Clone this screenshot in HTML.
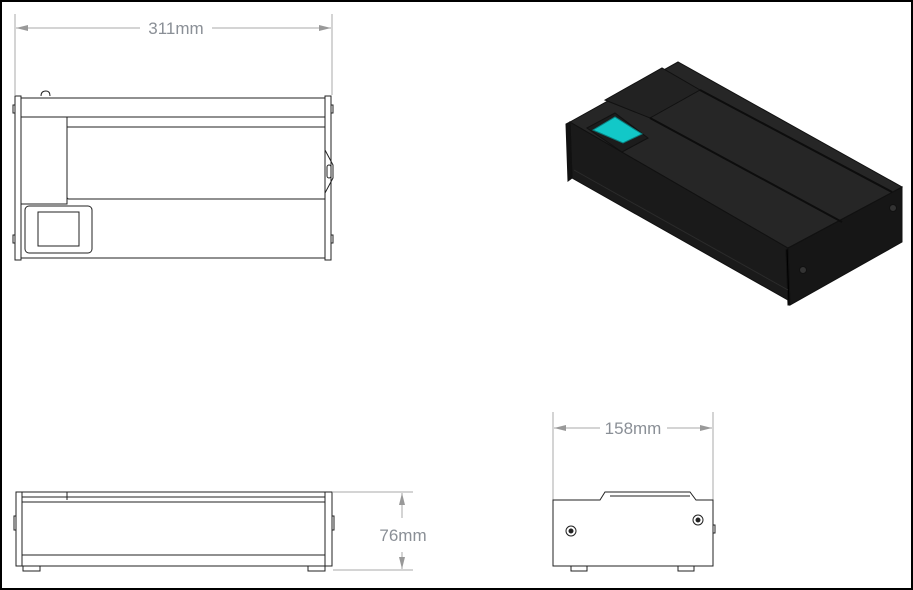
<!DOCTYPE html>
<html><head><meta charset="utf-8"><style>
html,body{margin:0;padding:0;background:#fff}
svg{display:block}
text{font-family:"Liberation Sans",sans-serif;fill:#8a8f96}
</style></head><body>
<svg width="913" height="590" viewBox="0 0 913 590" xmlns="http://www.w3.org/2000/svg">
<rect x="1" y="1" width="911" height="588" fill="#fff" stroke="#000" stroke-width="2"/>
<defs>
<marker id="a" markerWidth="12" markerHeight="6" refX="12" refY="3" orient="auto"><path d="M0,0 L12,3 L0,6 z" fill="#999"/></marker>
</defs>
<g stroke="#aaa" stroke-width="1" fill="none">
<!-- 311 dim -->
<line x1="15" y1="14" x2="15" y2="95"/><line x1="332" y1="14" x2="332" y2="95"/>
<line x1="140" y1="28" x2="16" y2="28" marker-end="url(#a)"/>
<line x1="212" y1="28" x2="331" y2="28" marker-end="url(#a)"/>
<!-- 76 dim -->
<line x1="333" y1="492" x2="413" y2="492"/><line x1="333" y1="570" x2="413" y2="570"/>
<line x1="402" y1="518" x2="402" y2="493" marker-end="url(#a)"/>
<line x1="402" y1="552" x2="402" y2="569" marker-end="url(#a)"/>
<!-- 158 dim -->
<line x1="553" y1="412" x2="553" y2="500"/><line x1="713" y1="412" x2="713" y2="500"/>
<line x1="600" y1="428" x2="554" y2="428" marker-end="url(#a)"/>
<line x1="667" y1="428" x2="712" y2="428" marker-end="url(#a)"/>
</g>
<text x="176" y="34" font-size="17" text-anchor="middle">311mm</text>
<text x="403" y="541" font-size="17" text-anchor="middle">76mm</text>
<text x="633" y="434" font-size="17" text-anchor="middle">158mm</text>

<!-- top view -->
<g stroke="#222" stroke-width="1" fill="none">
<rect x="15" y="96" width="6" height="164"/>
<rect x="325" y="96" width="6" height="164"/>
<rect x="21" y="98" width="304" height="160"/>
<line x1="21" y1="117" x2="325" y2="117"/>
<rect x="21" y="117" width="46" height="87"/>
<path d="M67 117 V197 Q67 199 69 199 H325"/>
<line x1="67" y1="127" x2="325" y2="127"/>
<path d="M325 150 L333 165 V178 L325 193"/>
<rect x="327" y="165" width="4" height="13" rx="2"/>
<rect x="25" y="206" width="67" height="47" rx="4"/>
<rect x="38" y="212" width="41" height="34"/>
<path d="M41 96 Q41 91 46 91 Q50 91 50 96"/>
<rect x="13" y="105" width="2" height="8"/><rect x="13" y="235" width="2" height="8"/>
<rect x="331" y="105" width="2" height="8"/><rect x="331" y="235" width="2" height="8"/>
</g>

<!-- front view -->
<g stroke="#222" stroke-width="1" fill="none">
<rect x="16" y="492" width="316" height="74"/>
<line x1="22" y1="492" x2="22" y2="566"/><line x1="325" y1="492" x2="325" y2="566"/>
<line x1="22" y1="497" x2="325" y2="497"/>
<line x1="67" y1="492" x2="67" y2="500"/>
<line x1="22" y1="502" x2="325" y2="502"/>
<line x1="22" y1="555" x2="325" y2="555"/>
<rect x="23" y="566" width="17" height="5"/><rect x="308" y="566" width="17" height="5"/>
<rect x="14" y="516" width="2" height="14"/><rect x="332" y="516" width="2" height="14"/>
</g>

<!-- side view -->
<g stroke="#222" stroke-width="1" fill="none">
<path d="M553 500 H600 L605 492 H690 L696 500 H713 V566 H553 Z"/>
<line x1="610" y1="496" x2="690" y2="496"/>
<circle cx="571" cy="531" r="5"/><circle cx="571" cy="531" r="2" fill="#222"/>
<circle cx="698" cy="520" r="5"/><circle cx="698" cy="520" r="2" fill="#222"/>
<rect x="571" y="566" width="16" height="5"/><rect x="678" y="566" width="16" height="5"/>
<rect x="713" y="525" width="2" height="8"/>
</g>

<!-- iso view -->
<g stroke="#111" stroke-width="1">
<polygon points="570,122 572,178 788,300 788,248" fill="#1a1a1a"/>
<polygon points="788,248 902,187 902,242 790,305" fill="#161616"/>
<polygon points="570,122 678,62 902,187 788,248" fill="#262626"/>
<polygon points="605,100 662,68 700,90 650,118" fill="#222"/>
<line x1="650" y1="118" x2="842" y2="222" stroke="#0d0d0d" stroke-width="2"/>
<line x1="700" y1="90" x2="892" y2="192" stroke="#0d0d0d" stroke-width="2"/>
<polygon points="587,128 615,113 648,138 622,152" fill="#1c1c1c"/>
<polygon points="593,130 615,117 642,134 623,143" fill="#12c8c8" stroke="#0a8080"/>
<polygon points="570,122 566,124 568,181 572,178" fill="#111"/>
<polygon points="788,248 786,250 788,305 790,305" fill="#000"/>
<line x1="574" y1="170" x2="788" y2="290" stroke="#2b2b2b"/>
<circle cx="803" cy="270" r="3.5" fill="#333"/>
<circle cx="893" cy="208" r="3.5" fill="#333"/>
</g>
</svg>
</body></html>
